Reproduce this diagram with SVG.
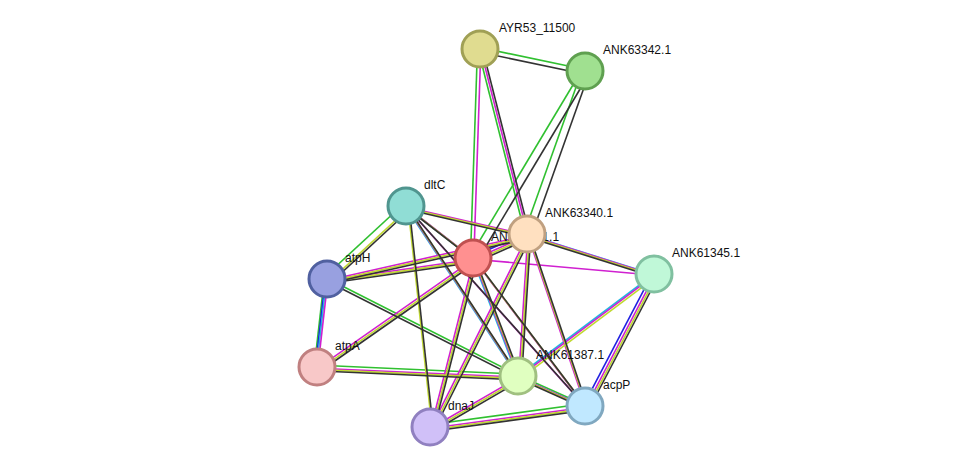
<svg xmlns="http://www.w3.org/2000/svg" width="975" height="473" viewBox="0 0 975 473">
<style>
.e line{stroke-width:1.6;fill:none}
.g line{stroke:#30c030}.k line{stroke:#333}.m line{stroke:#d020d0}.y line{stroke:#c0d830}.c line{stroke:#20b8e0}.b line{stroke:#2020e0}
.n circle{stroke-width:3}
text{font-family:"Liberation Sans",Arial,sans-serif;font-size:12px;fill:#111}
</style>
<rect width="975" height="473" fill="#fff"/>
<g id="connectors" class="e">
<g class="g" transform="translate(-2.5,-2)">
<line x1="480" y1="49" x2="585" y2="71"/><line x1="480" y1="49" x2="473" y2="258"/><line x1="480" y1="49" x2="527" y2="234"/><line x1="585" y1="71" x2="473" y2="258"/><line x1="585" y1="71" x2="527" y2="234"/><line x1="406" y1="206" x2="327" y2="279"/><line x1="327" y1="279" x2="317" y2="367"/><line x1="327" y1="279" x2="518" y2="376"/><line x1="317" y1="367" x2="518" y2="376"/><line x1="518" y1="376" x2="585" y2="406"/><line x1="430" y1="427" x2="585" y2="406"/>
</g>
<g class="b" transform="translate(-1.5,-0.7)">
<line x1="473" y1="258" x2="527" y2="234"/><line x1="327" y1="279" x2="317" y2="367"/><line x1="654" y1="274" x2="585" y2="406"/>
</g>
<g class="c" transform="translate(-0.5,0.5)">
<line x1="406" y1="206" x2="473" y2="258"/><line x1="406" y1="206" x2="518" y2="376"/><line x1="527" y1="234" x2="654" y2="274"/><line x1="327" y1="279" x2="317" y2="367"/><line x1="473" y1="258" x2="518" y2="376"/><line x1="654" y1="274" x2="518" y2="376"/><line x1="518" y1="376" x2="585" y2="406"/>
</g>
<g class="m" transform="translate(0.8,1.2)">
<line x1="480" y1="49" x2="473" y2="258"/><line x1="480" y1="49" x2="527" y2="234"/><line x1="406" y1="206" x2="473" y2="258"/><line x1="406" y1="206" x2="527" y2="234"/><line x1="406" y1="206" x2="518" y2="376"/><line x1="406" y1="206" x2="585" y2="406"/><line x1="473" y1="258" x2="527" y2="234"/><line x1="473" y1="258" x2="654" y2="274"/><line x1="527" y1="234" x2="654" y2="274"/><line x1="473" y1="258" x2="327" y2="279"/><line x1="527" y1="234" x2="327" y2="279"/><line x1="327" y1="279" x2="317" y2="367"/><line x1="473" y1="258" x2="317" y2="367"/><line x1="317" y1="367" x2="518" y2="376"/><line x1="473" y1="258" x2="518" y2="376"/><line x1="473" y1="258" x2="585" y2="406"/><line x1="473" y1="258" x2="430" y2="427"/><line x1="527" y1="234" x2="518" y2="376"/><line x1="527" y1="234" x2="585" y2="406"/><line x1="527" y1="234" x2="430" y2="427"/><line x1="654" y1="274" x2="518" y2="376"/><line x1="654" y1="274" x2="585" y2="406"/><line x1="518" y1="376" x2="585" y2="406"/><line x1="518" y1="376" x2="430" y2="427"/><line x1="430" y1="427" x2="585" y2="406"/>
</g>
<g class="y" transform="translate(2.2,2.6)">
<line x1="406" y1="206" x2="473" y2="258"/><line x1="406" y1="206" x2="527" y2="234"/><line x1="406" y1="206" x2="327" y2="279"/><line x1="406" y1="206" x2="518" y2="376"/><line x1="406" y1="206" x2="430" y2="427"/><line x1="473" y1="258" x2="527" y2="234"/><line x1="527" y1="234" x2="654" y2="274"/><line x1="473" y1="258" x2="327" y2="279"/><line x1="527" y1="234" x2="327" y2="279"/><line x1="473" y1="258" x2="317" y2="367"/><line x1="317" y1="367" x2="518" y2="376"/><line x1="473" y1="258" x2="518" y2="376"/><line x1="473" y1="258" x2="585" y2="406"/><line x1="473" y1="258" x2="430" y2="427"/><line x1="527" y1="234" x2="518" y2="376"/><line x1="527" y1="234" x2="585" y2="406"/><line x1="527" y1="234" x2="430" y2="427"/><line x1="654" y1="274" x2="518" y2="376"/><line x1="654" y1="274" x2="585" y2="406"/><line x1="518" y1="376" x2="585" y2="406"/><line x1="518" y1="376" x2="430" y2="427"/><line x1="430" y1="427" x2="585" y2="406"/>
</g>
<g class="k" transform="translate(3.5,4)">
<line x1="480" y1="49" x2="585" y2="71"/><line x1="480" y1="49" x2="527" y2="234"/><line x1="585" y1="71" x2="473" y2="258"/><line x1="585" y1="71" x2="527" y2="234"/><line x1="406" y1="206" x2="473" y2="258"/><line x1="406" y1="206" x2="527" y2="234"/><line x1="406" y1="206" x2="327" y2="279"/><line x1="406" y1="206" x2="518" y2="376"/><line x1="406" y1="206" x2="585" y2="406"/><line x1="406" y1="206" x2="430" y2="427"/><line x1="473" y1="258" x2="527" y2="234"/><line x1="527" y1="234" x2="654" y2="274"/><line x1="473" y1="258" x2="327" y2="279"/><line x1="527" y1="234" x2="327" y2="279"/><line x1="327" y1="279" x2="518" y2="376"/><line x1="473" y1="258" x2="317" y2="367"/><line x1="317" y1="367" x2="518" y2="376"/><line x1="473" y1="258" x2="518" y2="376"/><line x1="473" y1="258" x2="585" y2="406"/><line x1="473" y1="258" x2="430" y2="427"/><line x1="527" y1="234" x2="518" y2="376"/><line x1="527" y1="234" x2="585" y2="406"/><line x1="527" y1="234" x2="430" y2="427"/><line x1="654" y1="274" x2="585" y2="406"/><line x1="518" y1="376" x2="585" y2="406"/><line x1="518" y1="376" x2="430" y2="427"/><line x1="430" y1="427" x2="585" y2="406"/>
</g>
</g>
<g id="AYR53_11500" class="n"><circle cx="480" cy="49" r="18" fill="#e0dc90" stroke="#a0a055"/><text x="499" y="32">AYR53_11500</text></g>
<g id="ANK63342.1" class="n"><circle cx="585" cy="71" r="18" fill="#a0e090" stroke="#5fa050"/><text x="603" y="54">ANK63342.1</text></g>
<g id="dltC" class="n"><circle cx="406" cy="206" r="18" fill="#90ddd5" stroke="#50958f"/><text x="424" y="189">dltC</text></g>
<g id="ANK63341.1" class="n"><circle cx="473" cy="258" r="18" fill="#ff9090" stroke="#c05050"/><text x="491" y="241">ANK63341.1</text></g>
<g id="ANK63340.1" class="n"><circle cx="527" cy="234" r="18" fill="#ffe0c0" stroke="#c0a080"/><text x="545" y="217">ANK63340.1</text></g>
<g id="ANK61345.1" class="n"><circle cx="654" cy="274" r="18" fill="#c0f8d8" stroke="#80c0a0"/><text x="672" y="257">ANK61345.1</text></g>
<g id="atpH" class="n"><circle cx="327" cy="279" r="18" fill="#98a0e0" stroke="#5060a0"/><text x="345" y="262">atpH</text></g>
<g id="atpA" class="n"><circle cx="317" cy="367" r="18" fill="#f8c8c8" stroke="#c08080"/><text x="335" y="350">atpA</text></g>
<g id="ANK61387.1" class="n"><circle cx="518" cy="376" r="18" fill="#e0ffc0" stroke="#a0c080"/><text x="536" y="359">ANK61387.1</text></g>
<g id="acpP" class="n"><circle cx="585" cy="406" r="18" fill="#c0e8ff" stroke="#80a8c0"/><text x="603" y="389">acpP</text></g>
<g id="dnaJ" class="n"><circle cx="430" cy="427" r="18" fill="#d0c0f8" stroke="#9080c0"/><text x="448" y="410">dnaJ</text></g>
</svg>
